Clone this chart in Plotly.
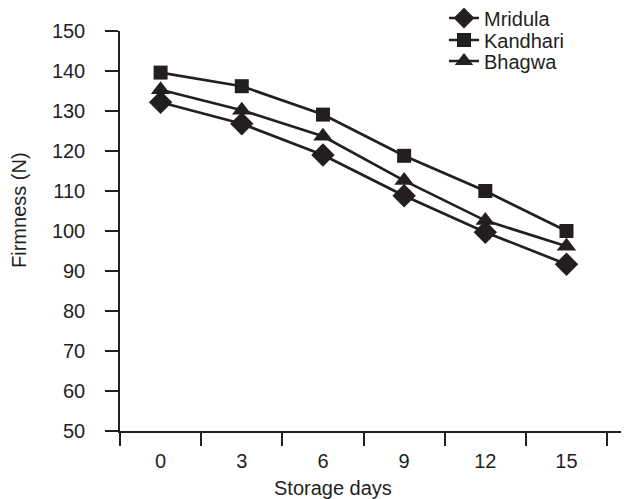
import plotly.graph_objects as go

storage_days = ["0", "3", "6", "9", "12", "15"]
mridula = [132.2, 126.8, 119.0, 108.8, 99.7, 91.7]
kandhari = [139.6, 136.2, 129.1, 118.8, 110.0, 100.0]
bhagwa = [135.3, 130.2, 123.7, 112.6, 102.6, 96.2]

ink = "#231f20"
FIG_W, FIG_H = 621, 491  # page body has an 8px margin
fig = go.Figure()
series = [("Mridula", mridula, "diamond", 18, "legend"),
          ("Kandhari", kandhari, "square", 14, "legend2"),
          ("Bhagwa", bhagwa, "triangle-up", 17, "legend3")]
for name, vals, sym, sz, lg in series:
    fig.add_trace(go.Scatter(
        x=storage_days, y=vals, name=name, mode="lines+markers",
        line=dict(color=ink, width=2.7),
        marker=dict(symbol=sym, size=sz, color=ink),
        legend=lg,
    ))

leg_common = dict(xref="container", yref="container", xanchor="left", yanchor="middle",
                  bgcolor="rgba(0,0,0,0)", font=dict(size=20, color=ink), x=436 / FIG_W)
fig.update_layout(
    width=FIG_W, height=FIG_H,
    margin=dict(l=112, r=0, t=23, b=68, autoexpand=False),
    plot_bgcolor="white", paper_bgcolor="white",
    font=dict(family="Liberation Sans, Arial, sans-serif", size=20, color=ink),
    showlegend=True,
    legend=dict(**leg_common, y=1 - 10 / FIG_H),
    legend2=dict(**leg_common, y=1 - 32 / FIG_H),
    legend3=dict(**leg_common, y=1 - 53 / FIG_H),
)
fig.update_xaxes(
    type="category", range=[-0.5, 5.77],
    showline=True, linecolor=ink, linewidth=1.5,
    ticks="outside", ticklen=13, tickwidth=1.5, tickcolor=ink,
    tickson="boundaries", showgrid=False, zeroline=False,
    tickfont=dict(size=20), ticklabelstandoff=11,
)
fig.update_yaxes(
    range=[50, 150], dtick=10, tick0=50,
    showline=True, linecolor=ink, linewidth=1.5,
    ticks="outside", ticklen=13, tickwidth=1.5, tickcolor=ink,
    showgrid=False, zeroline=False, tickfont=dict(size=20),
    ticklabelstandoff=16,
)
fig.add_annotation(text="Storage days", xref="paper", yref="paper",
                   x=0.418, y=-0.1425, xanchor="center", yanchor="middle",
                   showarrow=False, font=dict(size=20, color=ink))
fig.add_annotation(text="Firmness (N)", xref="paper", yref="paper",
                   x=-0.1985, y=0.5525, xanchor="center", yanchor="middle",
                   textangle=-90, showarrow=False, font=dict(size=20, color=ink))

fig.write_html("out.html")
